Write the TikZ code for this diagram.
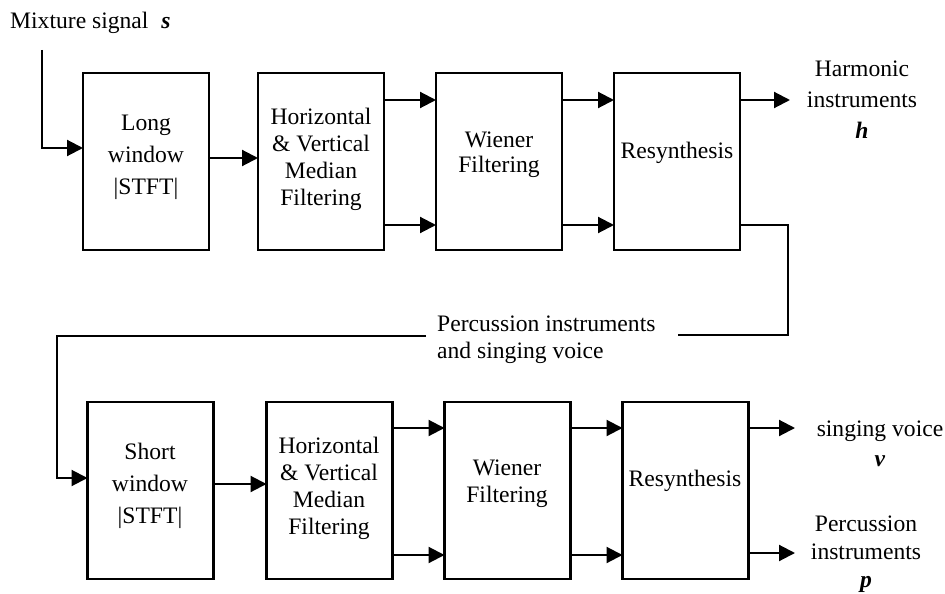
\documentclass[tikz,border=0pt]{standalone}
\usepackage{fontspec}
\setmainfont{Liberation Serif}
\usetikzlibrary{arrows.meta}
\begin{document}
\begin{tikzpicture}[x=1pt,y=-1pt,
  box/.style={draw, line width=2.1pt, minimum width=126pt, minimum height=177pt, inner sep=0pt, outer sep=0pt},
  txt/.style={font=\fontsize{23.6}{#1}\selectfont, align=center, inner sep=0pt},
  txt/.default=29,
  wire/.style={line width=2.1pt},
  arr/.style={wire, -{Triangle[length=16pt,width=16pt]}}]
\useasboundingbox (0,0) rectangle (945,594);

% processing blocks, long-window stage
\node[box] (lw)  at (146,161.5) {};
\node[box] (hv1) at (321,161.5) {};
\node[box] (wf1) at (499,161.5) {};
\node[box] (rs1) at (677,161.5) {};
% processing blocks, short-window stage
\node[box] (sw)  at (150.5,490.5) {};
\node[box] (hv2) at (329.5,490.5) {};
\node[box] (wf2) at (507.5,490.5) {};
\node[box] (rs2) at (685.5,490.5) {};

% block labels
\node[txt=32] (lwt)  at (146,157) {Long\\window\\|STFT|};
\node[txt=27] (hv1t) at (321,159) {Horizontal\\\& Vertical\\Median\\Filtering};
\node[txt=25] (wf1t) at (499,155) {Wiener\\Filtering};
\node[txt]    (rs1t) at (677,153) {Resynthesis};
\node[txt=32] (swt)  at (150,486) {Short\\window\\|STFT|};
\node[txt=27] (hv2t) at (329,488) {Horizontal\\\& Vertical\\Median\\Filtering};
\node[txt=27] (wf2t) at (507,484) {Wiener\\Filtering};
\node[txt]    (rs2t) at (685,481) {Resynthesis};

% signal labels
\node[txt, anchor=west] (mix) at (10,23) {Mixture signal\hspace{0.55em}\textbf{\textit{s}}};
\node[txt=31] (harm) at (862,100) {Harmonic\\instruments\\\textbf{\textit{h}}};
\node[txt=27, align=left, anchor=west] (pst) at (437,340) {Percussion instruments\\and singing voice};
\node[txt=30] (voice) at (880,444) {singing voice\\\textbf{\textit{v}}};
\node[txt=28] (perc) at (866,554) {Percussion\\instruments\\\textbf{\textit{p}}};

% free ends of connectors
\coordinate (in)   at (42,50);
\coordinate (hout) at (790,100);
\coordinate (fbr)  at (788,335);
\coordinate (fbe)  at (678,335);
\coordinate (fbs)  at (426,336);
\coordinate (fbl)  at (57,478);
\coordinate (vout) at (795,428);
\coordinate (pout) at (795,553);

% long-window stage connectors
\draw[arr] (in) |- (lw.west |- 0,148);
\draw[arr] (lw.east |- 0,158) -- (hv1.west |- 0,158);
\draw[arr] (hv1.east |- 0,100) -- (wf1.west |- 0,100);
\draw[arr] (hv1.east |- 0,225) -- (wf1.west |- 0,225);
\draw[arr] (wf1.east |- 0,100) -- (rs1.west |- 0,100);
\draw[arr] (wf1.east |- 0,225) -- (rs1.west |- 0,225);
\draw[arr] (rs1.east |- 0,100) -- (hout);

% feedback of the residual into the short-window stage
\draw[wire] (rs1.east |- 0,225) -| (fbr) -- (fbe);
\draw[arr] (fbs) -| (fbl) -- (sw.west |- fbl);

% short-window stage connectors
\draw[arr] (sw.east |- 0,484) -- (hv2.west |- 0,484);
\draw[arr] (hv2.east |- 0,428) -- (wf2.west |- 0,428);
\draw[arr] (hv2.east |- 0,555) -- (wf2.west |- 0,555);
\draw[arr] (wf2.east |- 0,428) -- (rs2.west |- 0,428);
\draw[arr] (wf2.east |- 0,555) -- (rs2.west |- 0,555);
\draw[arr] (rs2.east |- vout) -- (vout);
\draw[arr] (rs2.east |- pout) -- (pout);
\end{tikzpicture}
\end{document}
